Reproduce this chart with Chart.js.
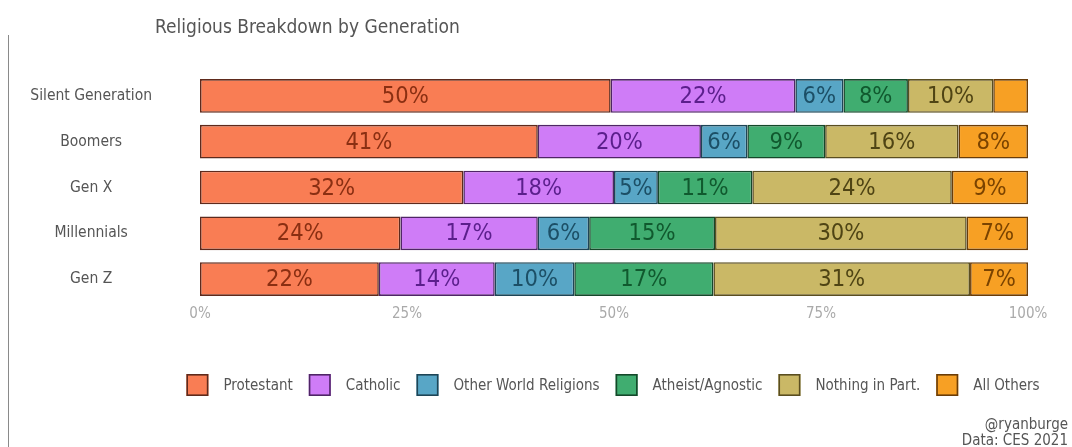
<!DOCTYPE html>
<html><head><meta charset="utf-8">
<script src="https://cdn.jsdelivr.net/npm/chart.js@4.4.1/dist/chart.umd.min.js"></script>
<style>
html,body{margin:0;padding:0;background:#fff;}
canvas{display:block;}
</style></head><body>
<canvas id="c" width="1072" height="447"></canvas>
<script>
const generations = ['Silent Generation', 'Boomers', 'Gen X', 'Millennials', 'Gen Z'];
const seriesNames = ['Protestant', 'Catholic', 'Other World Religions', 'Atheist/Agnostic', 'Nothing in Part.', 'All Others'];
const protestant   = [49.6, 40.8, 31.8, 24.2, 21.6];
const catholic     = [22.3, 19.7, 18.2, 16.6, 14.0];
const otherWorld   = [5.8, 5.6, 5.3, 6.2, 9.6];
const atheist      = [7.8, 9.4, 11.4, 15.2, 16.8];
const nothingPart  = [10.3, 16.1, 24.1, 30.4, 31.0];
const allOthers    = [4.2, 8.4, 9.2, 7.4, 7.0];
const xTicks = [0, 25, 50, 75, 100];
const titleText = 'Religious Breakdown by Generation';
const creditLines = ['@ryanburge', 'Data: CES 2021'];

const FONT = "'Liberation Sans Narrow', 'Arial Narrow', 'DejaVu Sans Condensed', sans-serif";
const fills   = ['#f97d54', '#cf7cf7', '#58a6c6', '#40ad70', '#cab866', '#f7a024'];
const borders = ['#5e2a1c', '#4f2566', '#1e4556', '#15482a', '#5a4e20', '#6a3c08'];
const labelCols = ['#8a2f12', '#5b1f8c', '#1c4f66', '#10592e', '#4f4414', '#7a4300'];
const seriesData = [protestant, catholic, otherWorld, atheist, nothingPart, allOthers];

const datasets = seriesNames.map((n, i) => ({
  label: n,
  data: seriesData[i],
  backgroundColor: fills[i],
  borderColor: borders[i],
  borderWidth: 1.6,
  borderSkipped: false,
  barPercentage: 0.735,
  categoryPercentage: 1.0
}));

const decor = {
  id: 'decor',
  afterDraw(chart) {
    const ctx = chart.ctx;
    ctx.save();
    ctx.strokeStyle = '#8a8a8a';
    ctx.lineWidth = 1;
    ctx.beginPath(); ctx.moveTo(8.5, 35); ctx.lineTo(8.5, 447); ctx.stroke();
    ctx.fillStyle = '#555';
    ctx.font = '19px ' + FONT;
    ctx.textAlign = 'left'; ctx.textBaseline = 'middle';
    ctx.fillText(titleText, 155, 28);
    ctx.font = '15px ' + FONT;
    const box = 22, gapT = 15, gapI = 16;
    const widths = chart.data.datasets.map(d => ctx.measureText(d.label).width);
    let total = 0;
    widths.forEach((w, i) => { total += box + gapT + w + (i ? gapI : 0); });
    let x = 613 - total / 2;
    const yc = 385;
    chart.data.datasets.forEach((d, i) => {
      ctx.fillStyle = d.backgroundColor;
      ctx.fillRect(x, yc - box / 2, box, box);
      ctx.strokeStyle = d.borderColor;
      ctx.lineWidth = 1.6;
      ctx.strokeRect(x + 0.8, yc - box / 2 + 0.8, box - 1.6, box - 1.6);
      ctx.fillStyle = '#555';
      ctx.textAlign = 'left'; ctx.textBaseline = 'middle';
      ctx.fillText(d.label, x + box + gapT, yc + 1);
      x += box + gapT + widths[i] + gapI;
    });
    ctx.textAlign = 'right';
    ctx.fillStyle = '#555';
    ctx.fillText(creditLines[0], 1068, 425);
    ctx.fillText(creditLines[1], 1068, 441);
    ctx.restore();
  },
  afterDatasetsDraw(chart) {
    const ctx = chart.ctx;
    ctx.save();
    ctx.font = '23.5px ' + FONT;
    ctx.textAlign = 'center'; ctx.textBaseline = 'middle';
    chart.data.datasets.forEach((d, di) => {
      const meta = chart.getDatasetMeta(di);
      meta.data.forEach((el, i) => {
        const v = d.data[i];
        if (v < 4.5) return;
        const p = el.getCenterPoint();
        ctx.fillStyle = labelCols[di];
        ctx.fillText(Math.round(v) + '%', p.x, p.y + 1);
      });
    });
    ctx.restore();
  }
};

new Chart(document.getElementById('c'), {
  type: 'bar',
  data: { labels: generations, datasets },
  options: {
    indexAxis: 'y',
    responsive: false,
    animation: false,
    devicePixelRatio: 1,
    layout: { padding: { top: 73, left: 30, right: 44, bottom: 121 } },
    plugins: { legend: { display: false }, tooltip: { enabled: false }, title: { display: false } },
    scales: {
      x: {
        stacked: true, min: 0, max: 100,
        afterBuildTicks(scale) { scale.ticks = xTicks.map(v => ({ value: v })); },
        grid: { display: false, drawTicks: false },
        border: { display: false },
        ticks: { padding: 3, color: '#aaa', font: { family: FONT, size: 15 }, callback: v => v + '%' }
      },
      y: {
        stacked: true,
        afterFit(scale) { scale.width = 170; },
        grid: { display: false, drawTicks: false },
        border: { display: false },
        ticks: { padding: 48, crossAlign: 'center', color: '#555', font: { family: FONT, size: 15.5 } }
      }
    }
  },
  plugins: [decor]
});
</script>
</body></html>
